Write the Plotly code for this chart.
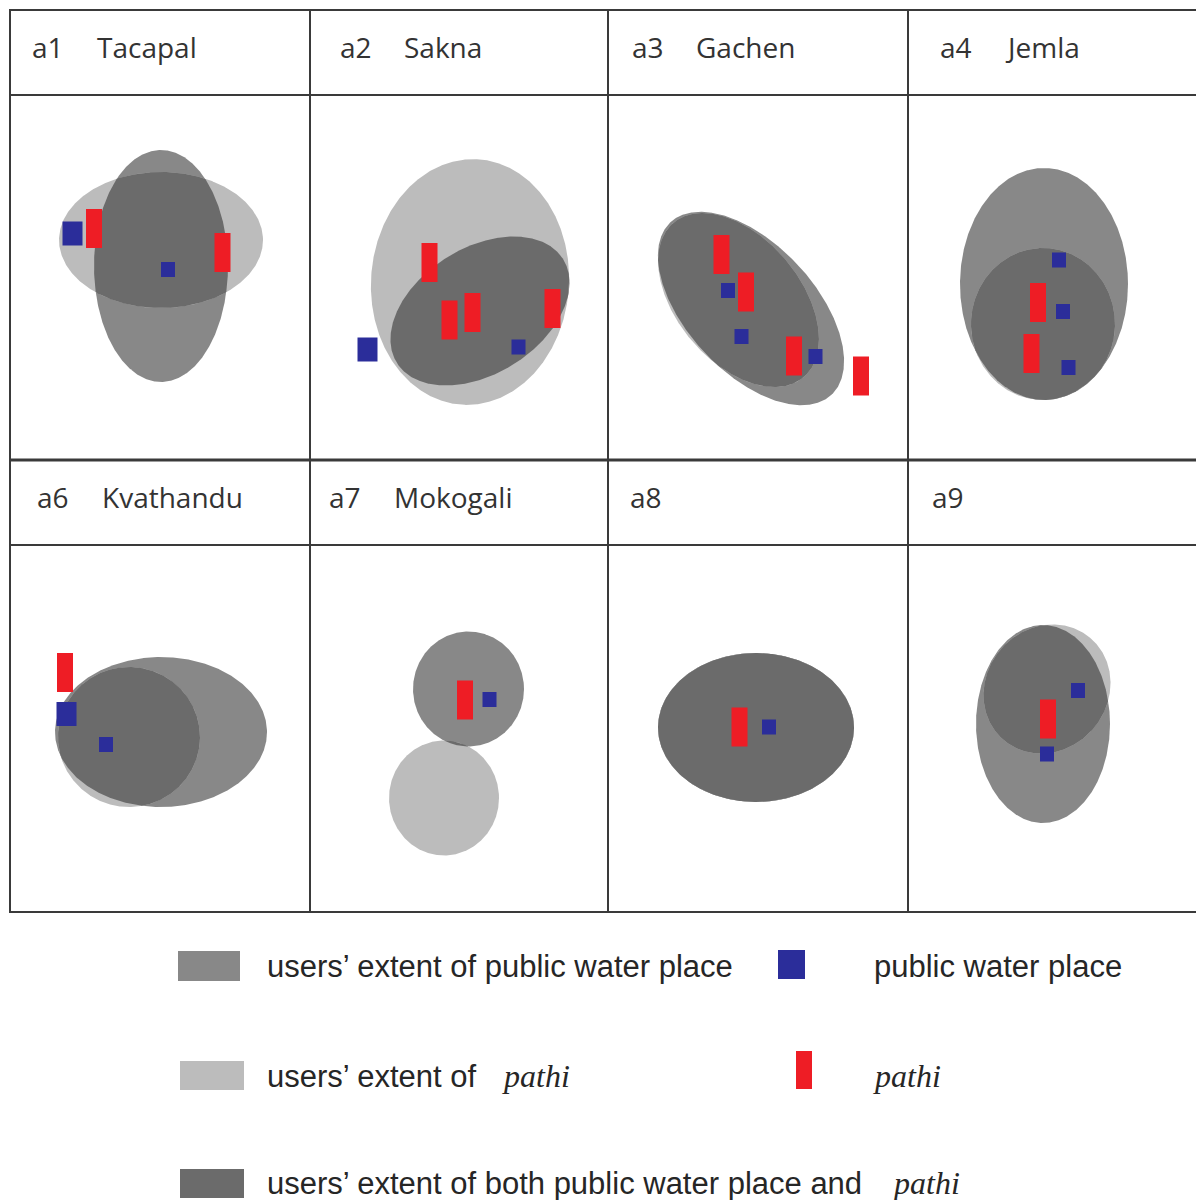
import numpy as np
import plotly.graph_objects as go

# ---------------- data ----------------
panel_ids = ["a1", "a2", "a3", "a4", "a6", "a7", "a8", "a9"]
village_names = ["Tacapal", "Sakna", "Gachen", "Jemla", "Kvathandu", "Mokogali", "", ""]

# users' extent of public water place: (cx, cy, semi-axis a, semi-axis b, rotation deg), panel-local px
water_extent = [
    (151, 171, 67, 116, 0),
    (170, 216, 98, 63, -32),
    (143, 213.5, 118, 64, 47),
    (136, 189, 84, 116, 0),
    (151, 187, 106, 75, 0),
    (158.5, 144, 55.5, 57.5, 0),
    (148, 182.5, 98, 74.5, 0),
    (135, 179, 67, 99, 0),
]
# users' extent of pathi
pathi_extent = [
    (151, 145, 102, 68, 0),
    (160, 187, 99, 123, 4),
    (130.5, 205, 101, 62, 50),
    (135, 229, 72, 76, 0),
    (119, 192, 71, 70, 0),
    (134, 253, 55, 57.5, 0),
    (148, 182.5, 98, 74.5, 0),
    (139, 144, 67, 61, -50),
]
# public water places (x, y) and size class (L = large, S = small)
water_places = [
    [(62.5, 138.5), (158, 174.5)],
    [(57.5, 254.5), (208.5, 252)],
    [(120, 195.5), (133.5, 241.5), (207.5, 261.5)],
    [(151, 165), (155, 216.5), (160.5, 272.5)],
    [(56.5, 169), (96, 199.5)],
    [(179.5, 154.5)],
    [(161, 182)],
    [(170, 145.5), (139, 209)],
]
water_place_class = [
    ["L", "S"],
    ["L", "S"],
    ["S", "S", "S"],
    ["S", "S", "S"],
    ["L", "S"],
    ["S"],
    ["S"],
    ["S", "S"],
]
# pathi locations (x, y)
pathis = [
    [(84, 133.5), (212.5, 157.5)],
    [(119.5, 167.5), (139.5, 225), (162.5, 217.5), (242.5, 213.5)],
    [(113.5, 159.5), (138, 197), (186, 261), (253, 281)],
    [(130, 207.5), (123.5, 258.5)],
    [(55, 127.5)],
    [(155, 155)],
    [(131.5, 182)],
    [(140, 174)],
]

legend_labels = [
    "users\u2019 extent of public water place",
    "public water place",
    "users\u2019 extent of",
    "users\u2019 extent of both public water place and",
]
legend_italic = "pathi"

# ---------------- layout / style ----------------
W, H = 1204, 1200
PAGE_OFFSET = 8  # default body margin of the html page
col_edges = [10, 310, 608, 908, 1204]
row_tops = [10, 460]
header_h = 85
label_offsets = [(20, 85), (28, 92), (22, 86), (30, 95), (25, 90), (17, 82), (20, 0), (22, 0)]

C_WATER = "#888888"
C_PATHI = "#bcbcbc"
C_BOTH = "#6b6b6b"
C_BLUE = "#2b2d9a"
C_RED = "#ee1d25"
C_LINE = "#3a3a3a"
SIZE = {"L": (20, 24), "S": (14, 15)}
PATHI_SIZE = (16, 39)


def ellipse_pts(e, n=720):
    cx, cy, a, b, rot = e
    t = np.linspace(0, 2 * np.pi, n, endpoint=False)
    th = np.radians(rot)
    x = cx + a * np.cos(t) * np.cos(th) - b * np.sin(t) * np.sin(th)
    y = cy + a * np.cos(t) * np.sin(th) + b * np.sin(t) * np.cos(th)
    return x, y


def inside(e, x, y):
    cx, cy, a, b, rot = e
    th = np.radians(rot)
    dx, dy = x - cx, y - cy
    u = dx * np.cos(th) + dy * np.sin(th)
    v = -dx * np.sin(th) + dy * np.cos(th)
    return (u / a) ** 2 + (v / b) ** 2 <= 1 + 1e-9


def intersection(e1, e2):
    x1, y1 = ellipse_pts(e1)
    x2, y2 = ellipse_pts(e2)
    m1 = inside(e2, x1, y1)
    m2 = inside(e1, x2, y2)
    xs = np.concatenate([x1[m1], x2[m2]])
    ys = np.concatenate([y1[m1], y2[m2]])
    if len(xs) < 3:
        return None
    cx, cy = xs.mean(), ys.mean()
    order = np.argsort(np.arctan2(ys - cy, xs - cx))
    return xs[order], ys[order]


def shift(e, ox, oy):
    return (e[0] + ox, e[1] + oy) + tuple(e[2:])


fig = go.Figure()
shapes = []
annotations = []

for i, pid in enumerate(panel_ids):
    r, c = divmod(i, 4)
    ox = col_edges[c]
    oy = row_tops[r] + header_h
    we = shift(water_extent[i], ox, oy)
    pe = shift(pathi_extent[i], ox, oy)
    for e, col in ((we, C_WATER), (pe, C_PATHI)):
        x, y = ellipse_pts(e)
        fig.add_trace(go.Scatter(x=np.append(x, x[0]), y=np.append(y, y[0]), mode="lines",
                                 fill="toself", fillcolor=col, line=dict(width=0, color=col),
                                 hoverinfo="skip"))
    inter = intersection(we, pe)
    if inter is not None:
        x, y = inter
        fig.add_trace(go.Scatter(x=np.append(x, x[0]), y=np.append(y, y[0]), mode="lines",
                                 fill="toself", fillcolor=C_BOTH, line=dict(width=0, color=C_BOTH),
                                 hoverinfo="skip"))
    for (px, py) in pathis[i]:
        w, h = PATHI_SIZE
        shapes.append(dict(type="rect", xref="x", yref="y", x0=px + ox - w / 2, x1=px + ox + w / 2,
                           y0=py + oy - h / 2, y1=py + oy + h / 2, fillcolor=C_RED, line=dict(width=0)))
    for (px, py), cl in zip(water_places[i], water_place_class[i]):
        w, h = SIZE[cl]
        shapes.append(dict(type="rect", xref="x", yref="y", x0=px + ox - w / 2, x1=px + ox + w / 2,
                           y0=py + oy - h / 2, y1=py + oy + h / 2, fillcolor=C_BLUE, line=dict(width=0)))
    # titles
    lo, no = label_offsets[i]
    ty = row_tops[r] + 37
    annotations.append(dict(x=ox + lo, y=ty, xref="x", yref="y", text=pid, showarrow=False,
                            xanchor="left", yanchor="middle",
                            font=dict(family="Open Sans", size=28, color="#333333")))
    if village_names[i]:
        annotations.append(dict(x=ox + no, y=ty, xref="x", yref="y", text=village_names[i],
                                showarrow=False, xanchor="left", yanchor="middle",
                                font=dict(family="Open Sans", size=28, color="#333333")))

# grid lines
for yy in [10, 95, 460, 545, 912]:
    shapes.append(dict(type="line", xref="x", yref="y", x0=9, x1=1210, y0=yy, y1=yy,
                       line=dict(color=C_LINE, width=3 if yy == 460 else 2)))
for xx in [10, 310, 608, 908]:
    shapes.append(dict(type="line", xref="x", yref="y", x0=xx, x1=xx, y0=9, y1=913,
                       line=dict(color=C_LINE, width=2)))
shapes.append(dict(type="line", xref="x", yref="y", x0=1203, x1=1203, y0=10, y1=460,
                   line=dict(color="#d8d8d8", width=1)))

# legend
leg_font = dict(family="Liberation Sans", size=31, color="#262626")
it_font = dict(family="Liberation Serif", size=32, color="#262626")
shapes += [
    dict(type="rect", xref="x", yref="y", x0=178, x1=240, y0=951, y1=981, fillcolor=C_WATER, line=dict(width=0)),
    dict(type="rect", xref="x", yref="y", x0=778, x1=805, y0=950, y1=979, fillcolor=C_BLUE, line=dict(width=0)),
    dict(type="rect", xref="x", yref="y", x0=180, x1=244, y0=1061, y1=1090, fillcolor=C_PATHI, line=dict(width=0)),
    dict(type="rect", xref="x", yref="y", x0=796, x1=812, y0=1051, y1=1089, fillcolor=C_RED, line=dict(width=0)),
    dict(type="rect", xref="x", yref="y", x0=180, x1=244, y0=1169, y1=1198, fillcolor=C_BOTH, line=dict(width=0)),
]
for txt, x, y in [(legend_labels[0], 265, 966), (legend_labels[1], 872, 966),
                  (legend_labels[2], 265, 1076), (legend_labels[3], 265, 1183)]:
    annotations.append(dict(x=x, y=y, xref="x", yref="y", text=txt, showarrow=False,
                            xanchor="left", yanchor="middle", font=leg_font))
for x, y in [(500, 1076), (871, 1076), (890, 1183)]:
    annotations.append(dict(x=x, y=y, xref="x", yref="y", text="<i>" + legend_italic + "</i>",
                            showarrow=False, xanchor="left", yanchor="middle", font=it_font))

fig.update_layout(
    width=W - PAGE_OFFSET, height=H - PAGE_OFFSET, margin=dict(l=0, r=0, t=0, b=0),
    paper_bgcolor="white", plot_bgcolor="white", showlegend=False,
    xaxis=dict(range=[PAGE_OFFSET, W], visible=False, fixedrange=True),
    yaxis=dict(range=[H, PAGE_OFFSET], visible=False, fixedrange=True),
    shapes=shapes, annotations=annotations,
)
fig.write_html("out.html")
